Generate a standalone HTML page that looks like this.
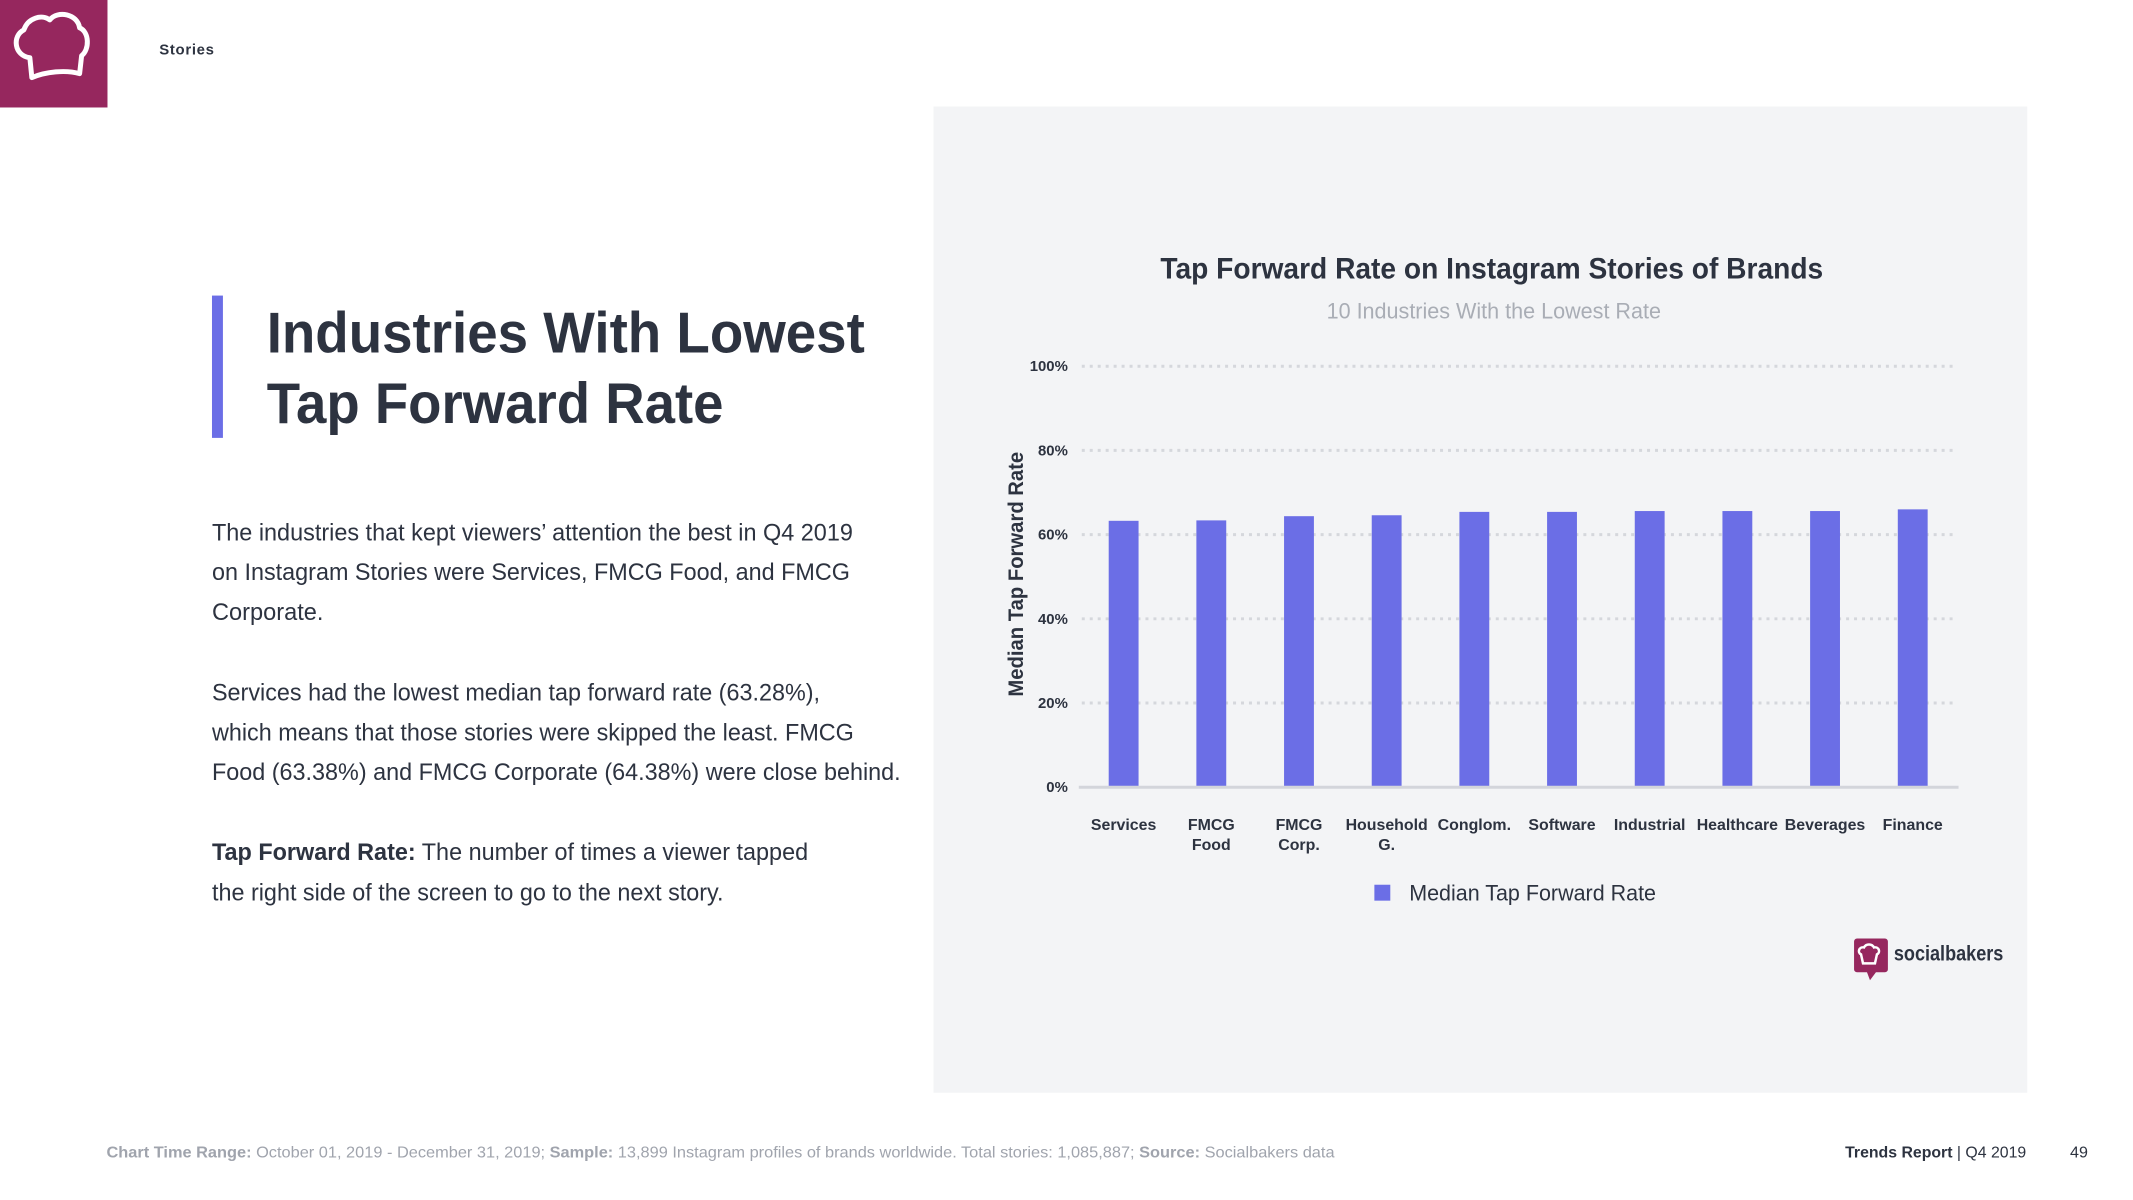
<!DOCTYPE html>
<html>
<head>
<meta charset="utf-8">
<style>
html,body{margin:0;padding:0;background:#fff;}
svg{display:block;font-family:"Liberation Sans",sans-serif;}
</style>
</head>
<body>
<svg id="page" width="2133" height="1200" viewBox="0 0 2133 1200">
  <rect x="0" y="0" width="2133" height="1200" fill="#ffffff"/>
  <g transform="scale(0.9952)">
  <g>
    <rect x="0" y="0" width="108" height="108" fill="#96275e"/>
    <path d="M32 78 L30 58 C14 56 12 36 24 30 C28 18 42 14 50 20 C58 10 78 14 80 28 C90 32 90 50 82 56 L80 74 C66 70 46 72 32 78 Z" fill="none" stroke="#ffffff" stroke-width="5" stroke-linejoin="round"/>
  </g>
  <text x="160" y="55" font-size="15" font-weight="bold" fill="#2d3340" textLength="55">Stories</text>

  <rect x="213" y="297" width="11" height="143" fill="#6b6ee6"/>
  <g font-size="58" font-weight="bold" fill="#2d3340">
    <text x="268" y="354" textLength="601" lengthAdjust="spacingAndGlyphs">Industries With Lowest</text>
    <text x="268" y="425" textLength="459" lengthAdjust="spacingAndGlyphs">Tap Forward Rate</text>
  </g>
  <g font-size="24" fill="#2d3340">
    <text x="213" y="543" textLength="644" lengthAdjust="spacingAndGlyphs">The industries that kept viewers’ attention the best in Q4 2019</text>
    <text x="213" y="583" textLength="641" lengthAdjust="spacingAndGlyphs">on Instagram Stories were Services, FMCG Food, and FMCG</text>
    <text x="213" y="623" textLength="112" lengthAdjust="spacingAndGlyphs">Corporate.</text>
    <text x="213" y="704" textLength="611" lengthAdjust="spacingAndGlyphs">Services had the lowest median tap forward rate (63.28%),</text>
    <text x="213" y="744" textLength="645" lengthAdjust="spacingAndGlyphs">which means that those stories were skipped the least. FMCG</text>
    <text x="213" y="784" textLength="692" lengthAdjust="spacingAndGlyphs">Food (63.38%) and FMCG Corporate (64.38%) were close behind.</text>
    <text x="213" y="864" textLength="599" lengthAdjust="spacingAndGlyphs"><tspan font-weight="bold">Tap Forward Rate:</tspan> The number of times a viewer tapped</text>
    <text x="213" y="905" textLength="514" lengthAdjust="spacingAndGlyphs">the right side of the screen to go to the next story.</text>
  </g>

  <rect x="938" y="107" width="1099" height="991" fill="#f3f4f6"/>
  <text x="1166" y="280" font-size="30" font-weight="bold" fill="#2d3340" textLength="666" lengthAdjust="spacingAndGlyphs">Tap Forward Rate on Instagram Stories of Brands</text>
  <text x="1333" y="320" font-size="22" fill="#a9adb5" textLength="336" lengthAdjust="spacingAndGlyphs">10 Industries With the Lowest Rate</text>
  <text transform="translate(1028,577) rotate(-90)" text-anchor="middle" font-size="21" font-weight="bold" fill="#2d3340" textLength="246" lengthAdjust="spacingAndGlyphs">Median Tap Forward Rate</text>
  <g id="grid"></g>
  <g id="yticks"></g>
  <g id="bars"></g>
  <line x1="1084" y1="791" x2="1968" y2="791" stroke="#d3d5db" stroke-width="3"/>
  <g id="xlabels"></g>

  <g>
    <rect x="1381" y="889" width="16" height="16" fill="#6b6ee6"/>
    <text x="1416" y="905" font-size="22" fill="#2d3340" textLength="248" lengthAdjust="spacingAndGlyphs">Median Tap Forward Rate</text>
  </g>

  <g>
    <path d="M1866 943 h28 a3 3 0 0 1 3 3 v28 a3 3 0 0 1 -3 3 h-9 l-6 8 l-3 -8 h-10 a3 3 0 0 1 -3 -3 v-28 a3 3 0 0 1 3 -3 z" fill="#96275e"/>
    <path d="M1872 968 l-2 -9 c-4 -2 -2 -8 3 -7 c2 -4 8 -4 10 0 c5 -1 7 5 3 7 l-2 9 z" fill="none" stroke="#fff" stroke-width="2.5"/>
    <text x="1903" y="965" font-size="21" font-weight="bold" fill="#2d3340" textLength="110" lengthAdjust="spacingAndGlyphs">socialbakers</text>
  </g>

  <text x="107" y="1163" font-size="16" fill="#a0a4ad" textLength="1234" lengthAdjust="spacingAndGlyphs"><tspan font-weight="bold">Chart Time Range:</tspan> October  01, 2019 - December 31, 2019; <tspan font-weight="bold">Sample:</tspan> 13,899 Instagram profiles of brands worldwide. Total stories: 1,085,887; <tspan font-weight="bold">Source:</tspan> Socialbakers data</text>
  <text x="1854" y="1163" font-size="16" fill="#2d3340" textLength="182" lengthAdjust="spacingAndGlyphs"><tspan font-weight="bold">Trends Report</tspan> | Q4 2019</text>
  <text x="2080" y="1163" font-size="16" fill="#2d3340" textLength="18" lengthAdjust="spacingAndGlyphs">49</text>
  </g>
</svg>
<script>
const categories = ["Services","FMCG Food","FMCG Corp.","Household G.","Conglom.","Software","Industrial","Healthcare","Beverages","Finance"];
const labelLines = [["Services"],["FMCG","Food"],["FMCG","Corp."],["Household","G."],["Conglom."],["Software"],["Industrial"],["Healthcare"],["Beverages"],["Finance"]];
const values = [63.28, 63.38, 64.38, 64.6, 65.4, 65.4, 65.6, 65.6, 65.6, 66.0];
const yTicks = [0, 20, 40, 60, 80, 100];
const yTickLabels = ["0%","20%","40%","60%","80%","100%"];

const NS = "http://www.w3.org/2000/svg";
const plotL = 1085, plotR = 1966, plotTop = 368, plotBot = 791;
const yMax = 100;
function yScale(v){ return plotBot - (v / yMax) * (plotBot - plotTop); }
const band = (plotR - plotL) / categories.length;
function xCenter(i){ return plotL + band * (i + 0.5); }
const barW = 30;

function mk(tag, attrs){ const e = document.createElementNS(NS, tag); for (const k in attrs) e.setAttribute(k, attrs[k]); return e; }

const grid = document.getElementById("grid");
const yt = document.getElementById("yticks");
yTicks.forEach((t, i) => {
  const y = yScale(t);
  if (t > 0) {
    const ln = mk("line", {x1: 1087, x2: 1966, y1: y, y2: y, stroke: "#d5d7dc", "stroke-width": 3, "stroke-dasharray": "3 5"});
    
    
    grid.appendChild(ln);
  }
  const tx = mk("text", {x: 1073, y: y + 5, "text-anchor": "end", "font-size": 15, "font-weight": "bold", fill: "#2d3340"});
  tx.textContent = yTickLabels[i];
  
  
  yt.appendChild(tx);
});

const bars = document.getElementById("bars");
const xl = document.getElementById("xlabels");
categories.forEach((c, i) => {
  const y = yScale(values[i]);
  const r = mk("rect", {x: xCenter(i) - barW / 2, y: y, width: barW, height: plotBot - y, fill: "#6b6ee6"});
  
  
  bars.appendChild(r);
  const t = mk("text", {x: xCenter(i), y: 834, "text-anchor": "middle", "font-size": 16, "font-weight": "bold", fill: "#2d3340"});
  labelLines[i].forEach((line, j) => {
    const ts = mk("tspan", {x: xCenter(i), dy: j === 0 ? 0 : 20});
    ts.textContent = line;
    t.appendChild(ts);
  });
  
  
  xl.appendChild(t);
});
</script>
</body>
</html>
